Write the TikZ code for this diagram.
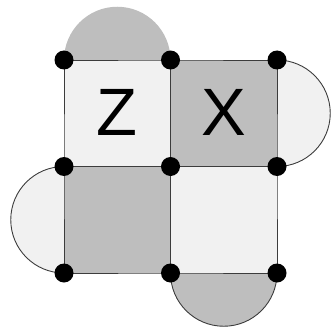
\documentclass[tikz,border=0pt]{standalone}
\usepackage{fontspec}
\setmainfont{Liberation Sans}
\definecolor{lightf}{RGB}{241,241,241}
\definecolor{darkf}{RGB}{190,190,190}
\definecolor{edgec}{RGB}{60,60,60}
\begin{document}
\begin{tikzpicture}[x=1pt,y=1pt,
  edge/.style={draw=edgec,line width=0.9pt},
  dot/.style={circle,fill=black,minimum size=19pt,inner sep=0pt},
  letter/.style={font=\fontsize{67}{67}\selectfont,inner sep=0pt}]
\useasboundingbox (0,0) rectangle (334,330);
% grid points
\coordinate (a1) at (64,270);   \coordinate (a2) at (170.5,270);   \coordinate (a3) at (277,270);
\coordinate (b1) at (64,163.5); \coordinate (b2) at (170.5,163.5); \coordinate (b3) at (277,163.5);
\coordinate (c1) at (64,57);    \coordinate (c2) at (170.5,57);    \coordinate (c3) at (277,57);
% squares
\fill[lightf] (a1) rectangle (b2);
\fill[darkf] (a2) rectangle (b3);
\fill[darkf] (b1) rectangle (c2);
\fill[lightf] (b2) rectangle (c3);
% half discs
\fill[darkf] (a1) arc[start angle=180,end angle=0,radius=53.25] -- cycle;
\filldraw[fill=lightf,draw=edgec,line width=0.9pt] (a3) arc[start angle=90,end angle=-90,radius=53.25];
\filldraw[fill=lightf,draw=edgec,line width=0.9pt] (b1) arc[start angle=90,end angle=270,radius=53.25];
\filldraw[fill=darkf,draw=edgec,line width=0.9pt] (c2) arc[start angle=180,end angle=360,radius=53.25];
% edges
\draw[edge] (a1) -- (a2) -- (a3) -- (b3) -- (c3) -- (c2) -- (c1) -- (b1) -- cycle;
\draw[edge] (a2) -- (b2) -- (c2);
\draw[edge] (b1) -- (b2) -- (b3);
% letters
\node[letter] (z) at (117,218) {Z};
\node[letter] (x) at (223.5,218) {X};
% dots
\foreach \p in {a1,a2,a3,b1,b2,b3,c1,c2,c3} \node[dot] (d\p) at (\p) {};
\end{tikzpicture}
\end{document}
